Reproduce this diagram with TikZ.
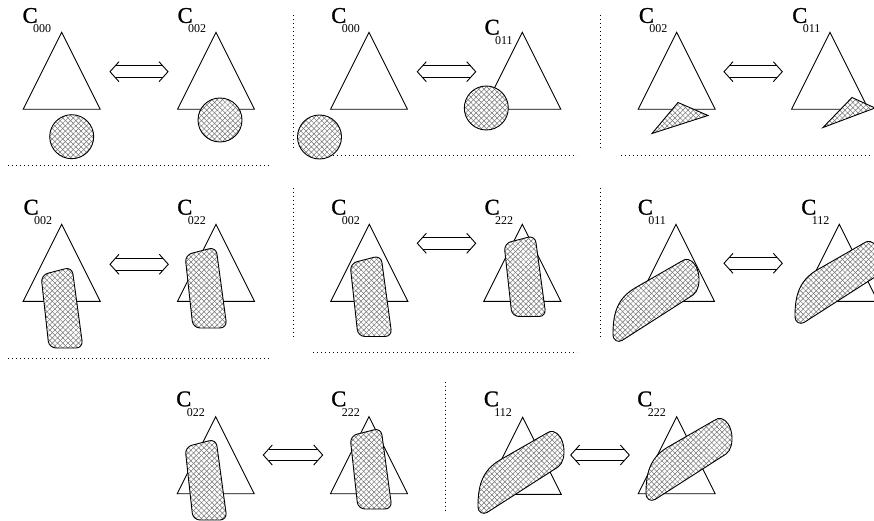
\documentclass[tikz,border=0pt]{standalone}
\usepackage{fontspec}
\setmainfont{Liberation Serif}
\newfontfamily\bigcfont[FakeBold=1.2]{Liberation Serif}
\usetikzlibrary{calc,patterns.meta}

% configuration label: a large C with a dropped index
\newcommand{\clab}[1]{{\bigcfont\fontsize{22.5}{22.5}\selectfont C}\kern-4.5pt\raisebox{-10pt}{\fontsize{12}{12}\selectfont #1}}
% outline triangle given its apex
\newcommand{\otri}[2]{\draw[tri] (#1-38.5,#2+77) -- (#1,#2) -- (#1+38.5,#2+77) -- cycle;}
% long slanted hatched region, shifted copy
\newcommand{\leafshape}[2]{\draw[hatch, shift={(#1,#2)}]
  (622,340.5) -- (693,295) .. controls (703,288) and (700,262) .. (688,259.5)
  .. controls (686,259) and (684,259.5) .. (682,261) -- (635,288)
  .. controls (616,299) and (613,316) .. (613,334)
  .. controls (613,341) and (618,342.5) .. (622,340.5) -- cycle;}
% upright rounded hatched region, shifted copy
\newcommand{\blobshape}[2]{\draw[hatch, rounded corners=7pt, shift={(#1,#2)}]
  (185,255) -- (216,247) -- (227,328) -- (193,328) -- cycle;}
% two-way double arrow between two named points
\newcommand{\dblarrow}[2]{%
  \draw[dblline] ($(#1)+(5.2,-5.8)$) -- ($(#2)+(-5.2,-5.8)$)
                 ($(#1)+(5.2,5.8)$) -- ($(#2)+(-5.2,5.8)$);
  \draw[dblline] ($(#1)+(9,-10)$) -- (#1) -- ($(#1)+(9,10)$)
                 ($(#2)+(-9,-10)$) -- (#2) -- ($(#2)+(-9,10)$);}

\begin{document}
\begin{tikzpicture}[x=1pt,y=-1pt,
  tri/.style={draw, line width=0.9pt, line join=miter},
  hatch/.style={draw, line width=0.9pt,
    preaction={fill=white},
    preaction={pattern={Lines[angle=45,distance=3.7pt,line width=0.5pt]}, pattern color=black!55},
    pattern={Lines[angle=-45,distance=3.7pt,line width=0.5pt]}, pattern color=black!55},
  sep/.style={line width=0.7pt, dash pattern=on 1.2pt off 2.8pt},
  lab/.style={inner sep=0pt, anchor=base west},
  dblline/.style={line width=0.9pt, line join=miter}]
\useasboundingbox (0,0) rectangle (874,521);

% ---------- separators ----------
\draw[sep] (8,165.7) -- (270,165.7);
\draw[sep] (313,155.7) -- (577,155.7);
\draw[sep] (621,155.7) -- (872,155.7);
\draw[sep] (8,358.3) -- (270,358.3);
\draw[sep] (313,352.7) -- (577,352.7);
\draw[sep] (293.3,15) -- (293.3,150);
\draw[sep] (600,15) -- (600,148);
\draw[sep] (293.3,188) -- (293.3,338);
\draw[sep] (600,188) -- (600,338);
\draw[sep] (445.7,381.7) -- (445.7,513.3);

% ---------- row 1 ----------
\otri{61.7}{32.3}
\draw[hatch] (71.7,136.7) circle[radius=22];
\node[lab] (l11) at (22.4,22.9) {\clab{000}};
\otri{216}{32.3}
\draw[hatch] (220,120) circle[radius=22];
\node[lab] (l12) at (177.4,22.9) {\clab{002}};
\coordinate (a1l) at (110,71.7); \coordinate (a1r) at (168,71.7);
\dblarrow{a1l}{a1r}

\otri{369}{32.3}
\draw[hatch] (319.5,137) circle[radius=22];
\node[lab] (l13) at (331.1,22.9) {\clab{000}};
\otri{522.3}{32.3}
\draw[hatch] (486.3,108) circle[radius=22];
\node[lab] (l14) at (484.4,34.6) {\clab{011}};
\coordinate (a2l) at (417.3,71.7); \coordinate (a2r) at (475.7,71.7);
\dblarrow{a2l}{a2r}

\otri{676.7}{32.3}
\draw[hatch] (678,102.5) -- (708,115.5) -- (652,133.5) -- cycle;
\node[lab] (l15) at (638.7,22.9) {\clab{002}};
\otri{830}{32.3}
\draw[hatch] (852,97.5) -- (875,108) -- (823,127.5) -- cycle;
\node[lab] (l16) at (792.1,22.9) {\clab{011}};
\coordinate (a3l) at (724,71.7); \coordinate (a3r) at (782.3,71.7);
\dblarrow{a3l}{a3r}

% ---------- row 2 ----------
\otri{61.7}{224.3}
\blobshape{-144}{20}
\node[lab] (l21) at (23.4,214.6) {\clab{002}};
\otri{216}{224.3}
\blobshape{0}{0}
\node[lab] (l22) at (177.1,214.6) {\clab{022}};
\coordinate (b1l) at (110,264.3); \coordinate (b1r) at (168.3,264.3);
\dblarrow{b1l}{b1r}

\otri{369.3}{224.3}
\blobshape{165}{8.5}
\node[lab] (l23) at (331.1,214.6) {\clab{002}};
\otri{522.3}{224.3}
\blobshape{319}{-11.5}
\node[lab] (l24) at (484.4,214.6) {\clab{222}};
\coordinate (b2l) at (417.3,243.3); \coordinate (b2r) at (475.7,243.3);
\dblarrow{b2l}{b2r}

\otri{676}{224.3}
\leafshape{0}{0}
\node[lab] (l25) at (637.7,214.6) {\clab{011}};
\otri{839.3}{224.3}
\leafshape{182}{-18}
\node[lab] (l26) at (801.1,214.6) {\clab{112}};
\coordinate (b3l) at (724,263.3); \coordinate (b3r) at (782.3,263.3);
\dblarrow{b3l}{b3r}

% ---------- row 3 ----------
\otri{215.7}{416.7}
\blobshape{0}{192}
\node[lab] (l31) at (176.1,406.3) {\clab{022}};
\otri{369}{416.7}
\blobshape{165}{181}
\node[lab] (l32) at (331.1,406.3) {\clab{222}};
\coordinate (c1l) at (263.3,455); \coordinate (c1r) at (322.7,455);
\dblarrow{c1l}{c1r}

\otri{522.7}{417.3}
\leafshape{-135}{172}
\node[lab] (l33) at (483.7,406.3) {\clab{112}};
\otri{676.7}{416.7}
\leafshape{33}{159}
\node[lab] (l34) at (637.1,406.3) {\clab{222}};
\coordinate (c2l) at (570.7,455); \coordinate (c2r) at (629.3,455);
\dblarrow{c2l}{c2r}
\end{tikzpicture}
\end{document}
